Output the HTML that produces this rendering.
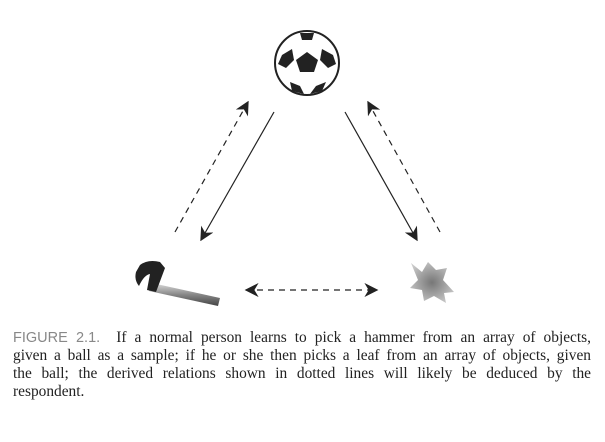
<!DOCTYPE html>
<html><head><style>
body{margin:0;width:605px;height:442px;background:#fff;position:relative;overflow:hidden}
svg{position:absolute;left:0;top:0}
.cap{position:absolute;left:13px;top:329px;width:578px;font-family:"Liberation Serif",serif;font-size:15.4px;line-height:18px;color:#222}
.cap div{text-align:justify;text-align-last:justify;white-space:nowrap;overflow:visible}
.cap div.l{text-align-last:left}
.cap b{font-family:"Liberation Sans",sans-serif;font-weight:normal;color:#888;font-size:14.5px}
</style></head><body>
<svg width="605" height="330">
<defs>
<marker id="a" viewBox="0 0 10 10" refX="9" refY="5" markerWidth="14" markerHeight="14" markerUnits="userSpaceOnUse" orient="auto-start-reverse"><path d="M0,0 L10,5 L0,10 L3,5z" fill="#222"/></marker>
<radialGradient id="lf" cx="0.5" cy="0.5" r="0.6"><stop offset="0" stop-color="#777"/><stop offset="1" stop-color="#ccc"/></radialGradient>
<linearGradient id="hd" x1="0" y1="0" x2="0" y2="1"><stop offset="0" stop-color="#ddd"/><stop offset="0.5" stop-color="#888"/><stop offset="1" stop-color="#444"/></linearGradient>
</defs>
<circle cx="307" cy="63" r="32" fill="#fff" stroke="#222" stroke-width="2"/>
<polygon points="307,52 318,60 314,72 300,72 296,60" fill="#222"/>
<polygon points="282,55 292,49 294,60 286,68 278,64" fill="#222"/>
<polygon points="322,49 333,55 336,64 328,68 320,60" fill="#222"/>
<polygon points="290,82 300,86 304,94 292,91" fill="#222"/>
<polygon points="316,86 326,82 322,91 310,94" fill="#222"/>
<polygon points="300,33 314,33 312,40 302,40" fill="#222"/>
<g stroke="#222" stroke-width="1.2" fill="none">
<line x1="274" y1="112" x2="201" y2="240" marker-end="url(#a)"/>
<line x1="345" y1="112" x2="417" y2="240" marker-end="url(#a)"/>
</g>
<g stroke="#222" stroke-width="1.2" fill="none" stroke-dasharray="6,5">
<line x1="175" y1="232" x2="248" y2="102" marker-end="url(#a)"/>
<line x1="440" y1="232" x2="368" y2="102" marker-end="url(#a)"/>
<line x1="246" y1="290" x2="377" y2="290" marker-start="url(#a)" marker-end="url(#a)"/>
</g>
<polygon points="152,283 220,298 218,306 149,291" fill="url(#hd)"/>
<path d="M140,265 Q148,259 160,262 L165,268 L156,292 L147,290 L150,274 Q144,275 139,286 Q134,280 136,272Z" fill="#222"/>
<path d="M411,263 L422,272 L428,262 L436,270 L447,268 L443,280 L454,292 L444,293 L446,303 L434,296 L424,301 L422,290 L410,288 L418,280Z" fill="url(#lf)"/>
</svg>
<div class="cap">
<div><b>FIGURE 2.1.</b>&nbsp; If a normal person learns to pick a hammer from an array of objects,</div>
<div>given a ball as a sample; if he or she then picks a leaf from an array of objects, given</div>
<div>the ball; the derived relations shown in dotted lines will likely be deduced by the</div>
<div class="l">respondent.</div>
</div>
</body></html>
